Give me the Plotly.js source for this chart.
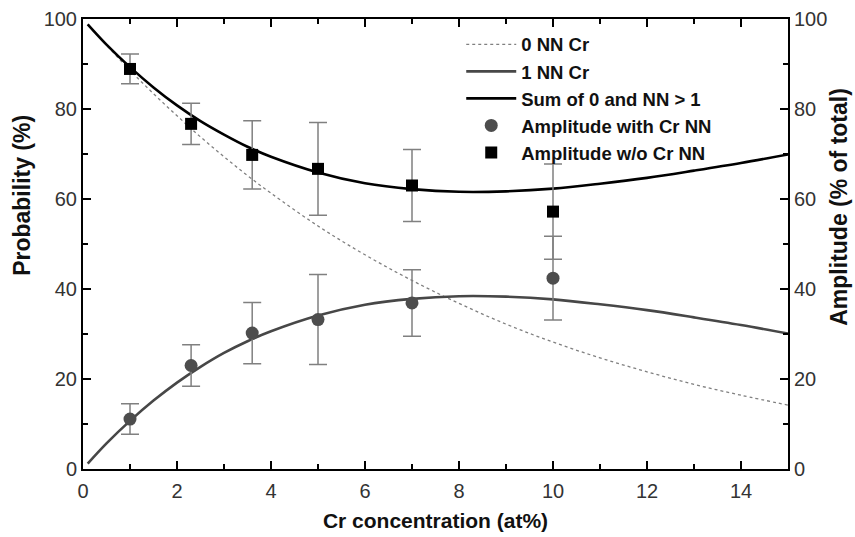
<!DOCTYPE html>
<html>
<head>
<meta charset="utf-8">
<script src="https://cdn.plot.ly/plotly-3.0.1.min.js"></script>
<style>html,body{margin:0;padding:0;background:#fff;}#chart{width:855px;height:537px;}</style>
</head>
<body>
<div id="chart"></div>
<script>
// Curves (x in at%, values in %)
const curveX = [0.1, 0.5, 1, 1.5, 2, 2.5, 3, 3.5, 4, 5, 6, 7, 8, 9, 10, 11, 12, 13, 14, 15];
const nn0 = [98.8, 94.2, 88.6, 83.4, 78.5, 73.8, 69.4, 65.2, 61.3, 54.0, 47.6, 41.9, 36.8, 32.2, 28.2, 24.7, 21.6, 18.8, 16.4, 14.2];
const nn1 = [1.2, 5.7, 10.7, 15.2, 19.2, 22.7, 25.8, 28.4, 30.6, 34.1, 36.5, 37.8, 38.4, 38.3, 37.7, 36.6, 35.3, 33.7, 32.0, 30.1];
const sumCurve = [98.8, 94.3, 89.3, 84.8, 80.8, 77.3, 74.3, 71.6, 69.4, 65.9, 63.5, 62.2, 61.6, 61.7, 62.3, 63.4, 64.7, 66.3, 68.0, 69.9];

// Measured amplitudes
const concX = [1, 2.3, 3.6, 5, 7, 10];
const ampWith = [11.1, 23.0, 30.2, 33.2, 36.9, 42.4];
const ampWithErr = [3.4, 4.6, 6.8, 10.0, 7.4, 9.3];
const ampWithout = [88.9, 76.7, 69.8, 66.7, 63.0, 57.2];
const ampWithoutErr = [3.3, 4.6, 7.6, 10.3, 8.0, 10.6];

const names = ['0 NN Cr', '1 NN Cr', 'Sum of 0 and NN > 1', 'Amplitude with Cr NN', 'Amplitude w/o Cr NN'];
const axisTitles = {x: 'Cr concentration (at%)', yLeft: 'Probability (%)', yRight: 'Amplitude (% of total)'};

const errStyle = {type: 'data', visible: true, color: '#808080', thickness: 1.5, width: 9};

const traces = [
  {x: curveX, y: nn0, name: names[0], mode: 'lines', line: {color: '#808080', width: 1.3, dash: '3px,3px', shape: 'spline'}},
  {x: curveX, y: nn1, name: names[1], mode: 'lines', line: {color: '#474747', width: 2.6, shape: 'spline'}},
  {x: curveX, y: sumCurve, name: names[2], mode: 'lines', line: {color: '#000000', width: 2.6, shape: 'spline'}},
  {x: concX, y: ampWith, name: names[3], mode: 'markers', yaxis: 'y2',
   marker: {symbol: 'circle', size: 13, color: '#4d4d4d'},
   error_y: Object.assign({array: ampWithErr}, errStyle)},
  {x: concX, y: ampWithout, name: names[4], mode: 'markers', yaxis: 'y2',
   marker: {symbol: 'square', size: 12, color: '#000000'},
   error_y: Object.assign({array: ampWithoutErr}, errStyle)}
];

const fam = 'Liberation Sans, Arial, sans-serif';
const tickFont = {family: fam, size: 20, color: '#333333'};
const vTitleFont = {family: fam, size: 23, color: '#111111', weight: 'bold'};

const layout = {
  width: 855, height: 537,
  margin: {l: 83, r: 67, t: 19, b: 68},
  paper_bgcolor: '#ffffff', plot_bgcolor: '#ffffff',
  showlegend: true,
  legend: {
    x: 0.5365, y: 0.985, xanchor: 'left', yanchor: 'top',
    bgcolor: 'rgba(0,0,0,0)', borderwidth: 0,
    itemwidth: 50,
    font: {family: fam, size: 18.5, color: '#111111', weight: 'bold'}
  },
  xaxis: {
    range: [0, 15], dtick: 2, tick0: 0,
    ticks: 'inside', ticklen: 8, tickwidth: 1.5, tickcolor: '#000',
    minor: {dtick: 1, ticks: 'inside', ticklen: 5, tickwidth: 1.5, tickcolor: '#000'},
    showline: true, linecolor: '#000', linewidth: 2, mirror: 'ticks',
    showgrid: false, zeroline: false,
    tickfont: tickFont, ticklabelstandoff: 3,
    title: {text: axisTitles.x, font: {family: fam, size: 21, color: '#111111', weight: 'bold'}, standoff: 12}
  },
  yaxis: {
    range: [0, 100], dtick: 20, tick0: 0,
    ticks: 'inside', ticklen: 8, tickwidth: 1.5, tickcolor: '#000',
    minor: {dtick: 10, ticks: 'inside', ticklen: 5, tickwidth: 1.5, tickcolor: '#000'},
    showline: true, linecolor: '#000', linewidth: 2, mirror: true,
    showgrid: false, zeroline: false,
    tickfont: tickFont
  },
  yaxis2: {
    overlaying: 'y', side: 'right',
    range: [0, 100], dtick: 20, tick0: 0,
    ticks: 'inside', ticklen: 8, tickwidth: 1.5, tickcolor: '#000',
    minor: {dtick: 10, ticks: 'inside', ticklen: 5, tickwidth: 1.5, tickcolor: '#000'},
    showline: true, linecolor: '#000', linewidth: 2,
    showgrid: false, zeroline: false,
    tickfont: tickFont
  },
  annotations: [
    {text: axisTitles.yLeft, xref: 'paper', yref: 'paper', x: -0.0865, y: 0.607,
     xanchor: 'center', yanchor: 'middle', textangle: -90, showarrow: false, font: vTitleFont},
    {text: axisTitles.yRight, xref: 'paper', yref: 'paper', x: 1.0725, y: 0.583,
     xanchor: 'center', yanchor: 'middle', textangle: -90, showarrow: false, font: vTitleFont}
  ]
};

Plotly.newPlot('chart', traces, layout, {displayModeBar: false, staticPlot: true});
</script>
</body>
</html>
